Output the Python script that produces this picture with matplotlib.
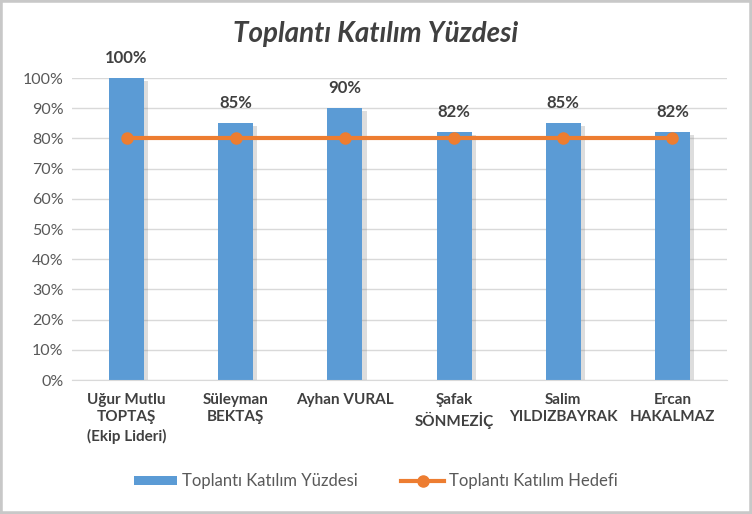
import matplotlib.pyplot as plt
import matplotlib.patheffects as pe
from matplotlib.patches import Rectangle, Patch
from matplotlib.lines import Line2D
import numpy as np

plt.rcParams['font.family'] = ['Lato', 'DejaVu Sans']

# chart data
names = ["Uğur Mutlu\nTOPTAŞ\n(Ekip Lideri)", "Süleyman\nBEKTAŞ", "Ayhan VURAL",
         "Şafak\nSÖNMEZİÇ", "Salim\nYILDIZBAYRAK", "Ercan\nHAKALMAZ"]
katilim = [100, 85, 90, 82, 85, 82]
hedef = [80, 80, 80, 80, 80, 80]
yticks = [0, 10, 20, 30, 40, 50, 60, 70, 80, 90, 100]

blue = '#5B9BD5'
orange = '#ED7D31'

fig = plt.figure(figsize=(7.52, 5.14), dpi=100)
ax = fig.add_axes([0.0957, 0.2607, 0.871, 0.5875])

x = np.arange(len(names))
bars = ax.bar(x, katilim, width=0.32, color=blue, zorder=2)
for b in bars:
    b.set_path_effects([pe.SimplePatchShadow(offset=(3, -2), shadow_rgbFace='#909090', alpha=0.3),
                        pe.Normal()])
ax.plot(x, hedef, color=orange, lw=3, marker='o', ms=8, zorder=3)

for xi, v in zip(x, katilim):
    ax.text(xi, v + 4, f'{v}%', ha='center', va='bottom', fontsize=12,
            fontweight='bold', color='#404040')

ax.set_xlim(-0.5, len(names) - 0.5)
ax.set_ylim(0, 100)
ax.set_yticks(yticks)
ax.set_yticklabels([f'{t}%' for t in yticks], fontsize=11.5, color='#595959')
ax.set_xticks(x)
ax.set_xticklabels(names, fontsize=11, fontweight='bold', color='#404040',
                   linespacing=1.35, va='top')
ax.tick_params(axis='x', length=0, pad=9)
ax.tick_params(axis='y', length=0, pad=6)
ax.grid(axis='y', color='#d9d9d9', lw=1, zorder=0)
for s in ['top', 'right', 'left']:
    ax.spines[s].set_visible(False)
ax.spines['bottom'].set_color('#d9d9d9')

fig.suptitle('Toplantı Katılım Yüzdesi', y=0.96, fontsize=20,
             fontweight='bold', style='italic', color='#404040')

handles = [Patch(facecolor=blue, label='Toplantı Katılım Yüzdesi'),
           Line2D([], [], color=orange, lw=3, marker='o', ms=8,
                  label='Toplantı Katılım Hedefi')]
fig.legend(handles=handles, loc='center', bbox_to_anchor=(0.5, 0.064), ncol=2,
           frameon=False, fontsize=12, labelcolor='#595959', handlelength=2.6,
           handleheight=0.45, columnspacing=2.6, handletextpad=0.3)

fig.add_artist(Rectangle((0, 0), 1, 1, transform=fig.transFigure, fill=False,
                         edgecolor='#c8c8c8', lw=4))

fig.savefig('out.png', dpi=100)
